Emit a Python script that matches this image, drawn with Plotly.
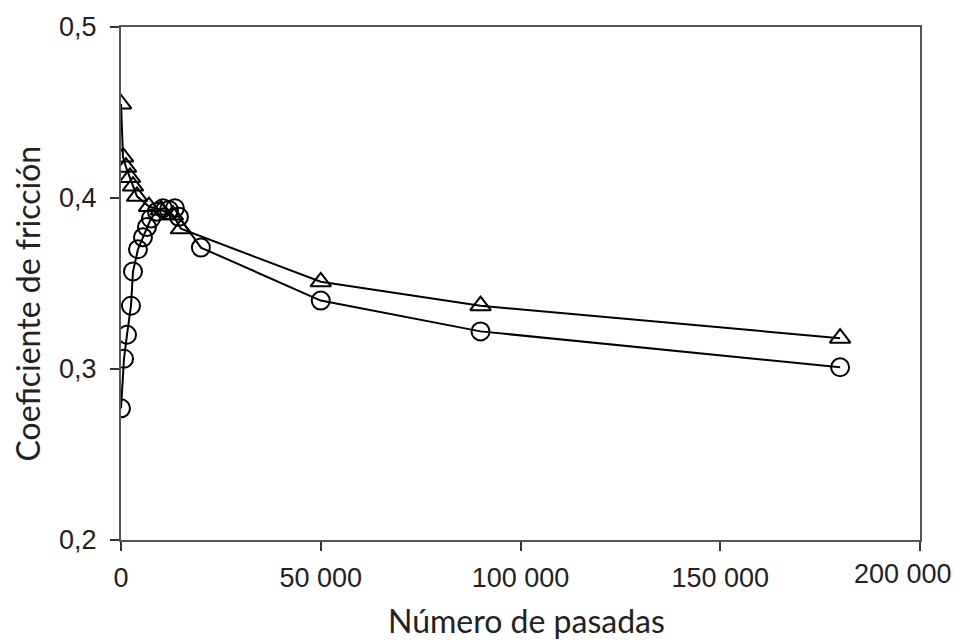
import plotly.graph_objects as go

# Data
circ_x = [0, 750, 1500, 2500, 3000, 4250, 5500, 6500, 7500, 9000, 10500, 12000, 13500, 14500, 20000, 50000, 90000, 180000]
circ_y = [0.277, 0.306, 0.320, 0.337, 0.357, 0.370, 0.377, 0.383, 0.388, 0.392, 0.394, 0.393, 0.394, 0.389, 0.371, 0.340, 0.322, 0.301]

tri_x = [0, 500, 1250, 2250, 3000, 4000, 7000, 10000, 13000, 15000, 50000, 90000, 180000]
tri_y = [0.455, 0.424, 0.418, 0.412, 0.407, 0.401, 0.395, 0.393, 0.390, 0.382, 0.351, 0.337, 0.318]

x_ticks = [0, 50000, 100000, 150000, 200000]
x_labels = ["0", "50 000", "100 000", "150 000", "200 000"]
y_ticks = [0.2, 0.3, 0.4, 0.5]
y_labels = ["0,2", "0,3", "0,4", "0,5"]

x_title = "Número de pasadas"
y_title = "Coeficiente de fricción"

tick_font = dict(family="Liberation Sans, Arial", size=27, color="#222")
title_font = dict(family="Lato", size=32, color="#222")

fig = go.Figure()
fig.add_trace(go.Scatter(
    x=tri_x, y=tri_y, mode="lines+markers",
    line=dict(color="black", width=2),
    marker=dict(symbol="triangle-up-open", size=18, color="black", line=dict(width=2)),
    showlegend=False))
fig.add_trace(go.Scatter(
    x=circ_x, y=circ_y, mode="lines+markers",
    line=dict(color="black", width=2),
    marker=dict(symbol="circle-open", size=18, color="black", line=dict(width=2)),
    showlegend=False))

axis_common = dict(showgrid=False, zeroline=False, showline=True, mirror=True,
                   linecolor="#555", linewidth=2, ticks="outside", ticklen=9,
                   tickcolor="#333", tickwidth=2, tickfont=tick_font)

# last x label is drawn as an annotation (shifted left as in the reference)
fig.update_xaxes(range=[0, 200000], tickvals=x_ticks, ticktext=x_labels[:-1] + [""],
                 ticklabelstandoff=4, **axis_common)
fig.update_yaxes(range=[0.2, 0.5], tickvals=y_ticks, ticktext=y_labels,
                 ticklabelstandoff=8, **axis_common)

fig.add_annotation(x=x_ticks[-1], y=0, xref="x", yref="paper", text=x_labels[-1],
                   showarrow=False, xanchor="center", yanchor="top", xshift=-17, yshift=-17,
                   font=tick_font)
fig.add_annotation(x=0.5, y=0, xref="paper", yref="paper", text=x_title,
                   showarrow=False, xanchor="center", yanchor="middle", xshift=6, yshift=-80,
                   font=title_font)
fig.add_annotation(x=0, y=0.5, xref="paper", yref="paper", text=y_title, textangle=-90,
                   showarrow=False, xanchor="center", yanchor="middle", xshift=-94, yshift=-20,
                   font=title_font)

fig.update_layout(width=961, height=644, plot_bgcolor="white", paper_bgcolor="white",
                  margin=dict(l=121, r=41, t=22, b=104))

fig.write_html("out.html")
